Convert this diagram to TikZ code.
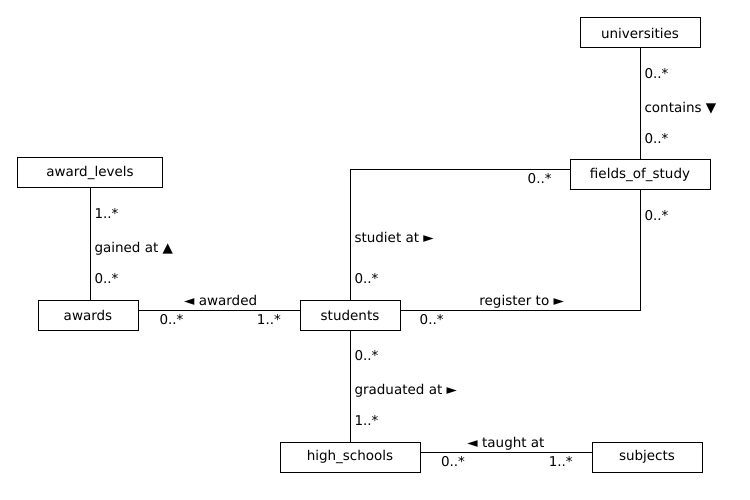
\documentclass[tikz,border=0pt]{standalone}
\usepackage{fontspec}
\setmainfont{DejaVu Sans}
\usetikzlibrary{positioning}

\begin{document}
\begin{tikzpicture}[x=1pt,y=-1pt,node distance=111pt,
	entity/.style	={rectangle,draw,line width=1pt,inner sep=0pt,minimum height=30pt,font=\fontsize{13.5}{16}\selectfont},
	mult/.style	={inner sep=4pt,text height=9.5pt,text depth=0pt,font=\fontsize{13.5}{16}\selectfont},
	link/.style	={line width=1pt},
	]
	\useasboundingbox (0,0) rectangle (750,500);
	
	\node [entity,minimum width=100pt] (students) at (350,315) {students};
	\node [entity,minimum width=140pt] (fields) at (640,175) {fields\_of\_study};
	\node [entity,minimum width=120pt] (universities) [above=of fields] {universities};
	\node [entity,minimum width=100pt] (awards) [left=161pt of students] {awards};
	\node [entity,minimum width=145pt] (levels) [above=of awards,xshift=2pt] {award\_levels};
	\node [entity,minimum width=140pt] (schools) [below=of students] {high\_schools};
	\node [entity,minimum width=110pt] (subjects) [right=171pt of schools] {subjects};
	
	\coordinate (studyC) at ([yshift=5pt]fields.west -| students.north);
	\coordinate (registerC) at ([yshift=5pt]students.east -| fields.south);
	
	\draw [link] (universities) -- node [mult,pos=.225,anchor=west] {0..*} node [mult,pos=.53,anchor=west] {contains ▼} node [mult,pos=.81,anchor=west] {0..*} (fields);
	\draw [link] (levels.south) -- node [mult,pos=.225,anchor=west] {1..*} node [mult,pos=.53,anchor=west] {gained at ▲} node [mult,pos=.81,anchor=west] {0..*} (levels.south |- awards.north);
	\draw [link] (students) -- node [mult,pos=.225,anchor=west] {0..*} node [mult,pos=.53,anchor=west] {graduated at ►} node [mult,pos=.81,anchor=west] {1..*} (schools);
	
	\draw [link] ([yshift=5pt]awards.east) -- node [mult,pos=.205,below] {0..*} node [mult,pos=.51,above] {◄ awarded} node [mult,pos=.81,below] {1..*} ([yshift=5pt]students.west);
	\draw [link] ([yshift=5pt]schools.east) -- node [mult,pos=.19,below] {0..*} node [mult,pos=.5,above] {◄ taught at} node [mult,pos=.82,below] {1..*} ([yshift=5pt]subjects.west);
	
	\draw [link] ([yshift=5pt]fields.west) -- node [mult,pos=.136,below] {0..*} (studyC) -- node [mult,pos=.52,anchor=west] {studiet at ►} node [mult,pos=.84,anchor=west] {0..*} (students.north);
	\draw [link] ([yshift=5pt]students.east) -- node [mult,pos=.13,below] {0..*} node [mult,pos=.506,above] {register to ►} (registerC) -- node [mult,pos=.79,anchor=west] {0..*} (fields.south);
\end{tikzpicture}
\end{document}
